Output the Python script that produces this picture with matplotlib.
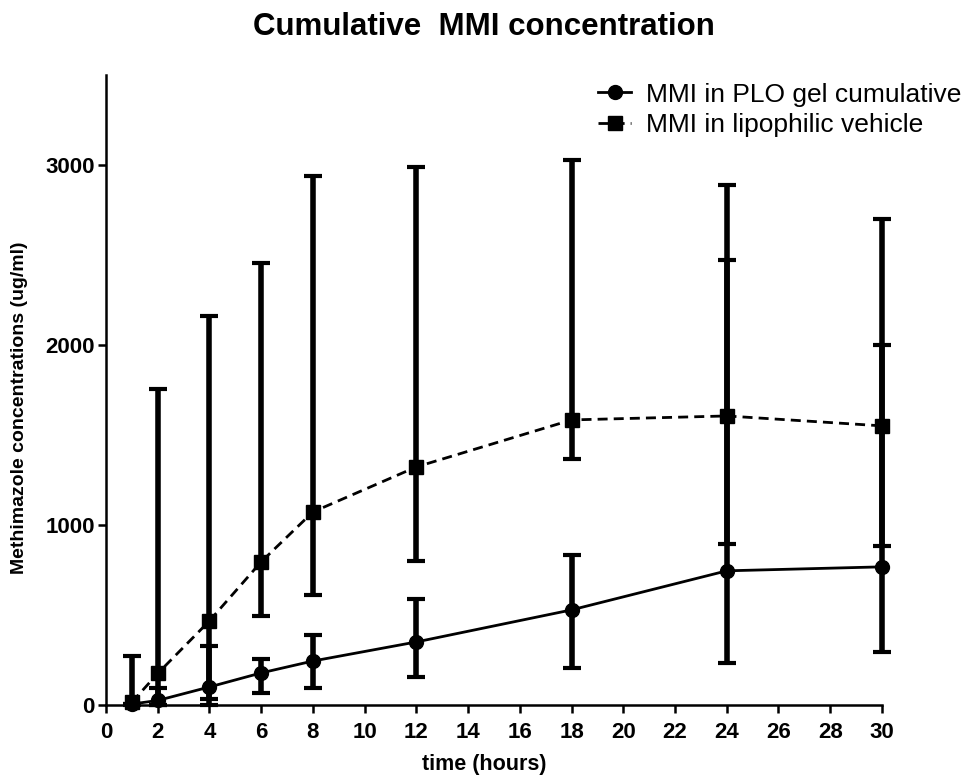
import matplotlib
matplotlib.use("Agg")
import matplotlib.pyplot as plt

plt.rcParams['font.family'] = ['Liberation Sans', 'DejaVu Sans']

# sampling times (hours)
hours = [1, 2, 4, 6, 8, 12, 18, 24, 30]

# MMI in PLO gel cumulative
plo_mean = [5, 25, 100, 178, 244, 350, 528, 745, 767]
plo_low = [5, 0, 33, 67, 94, 156, 206, 233, 294]
plo_high = [5, 95, 328, 256, 389, 589, 833, 2470, 2000]

# MMI in lipophilic vehicle
lipo_mean = [15, 175, 467, 795, 1072, 1322, 1583, 1605, 1550]
lipo_low = [0, 0, 0, 495, 611, 800, 1367, 895, 883]
lipo_high = [270, 1755, 2160, 2455, 2935, 2985, 3025, 2885, 2700]

labels = ['MMI in PLO gel cumulative', 'MMI in lipophilic vehicle']

fig = plt.figure(figsize=(9.68, 7.8), dpi=100)
ax = fig.add_axes([0.1095, 0.0962, 0.8016, 0.808])


def yerr(mean, low, high):
    return [[m - l for m, l in zip(mean, low)], [h - m for m, h in zip(mean, high)]]


# error bars (black, thick caps)
for mean, low, high in [(plo_mean, plo_low, plo_high), (lipo_mean, lipo_low, lipo_high)]:
    eb = ax.errorbar(hours, mean, yerr=yerr(mean, low, high), fmt='none', ecolor='black',
                     elinewidth=4, capsize=6.5, capthick=3, zorder=2)
    for art in list(eb.lines[1]) + list(eb.lines[2]):
        art.set_clip_on(False)

ax.plot(hours, plo_mean, '-', color='black', lw=2, marker='o', ms=10,
        label=labels[0], clip_on=False, zorder=3)
ax.plot(hours, lipo_mean, '--', color='black', lw=2, marker='s', ms=9.5,
        dashes=(3.6, 2.2), label=labels[1], clip_on=False, zorder=3)

ax.set_xlim(0, 30)
ax.set_ylim(0, 3500)
ax.set_xticks(range(0, 31, 2))
ax.set_yticks([0, 1000, 2000, 3000])

for s in ['top', 'right']:
    ax.spines[s].set_visible(False)
for s in ['left', 'bottom']:
    ax.spines[s].set_linewidth(1.8)

ax.tick_params(direction='out', length=6, width=1.8, labelsize=16)
ax.tick_params(axis='x', pad=6)
ax.tick_params(axis='y', pad=2)
for lbl in ax.get_xticklabels() + ax.get_yticklabels():
    lbl.set_fontweight('bold')

ax.set_xlabel('time (hours)', fontsize=15.5, fontweight='bold')
ax.xaxis.set_label_coords(0.487, -0.078)
ax.set_ylabel('Methimazole concentrations (ug/ml)', fontsize=14, fontweight='bold')
ax.yaxis.set_label_coords(-0.1, 0.471)

fig.suptitle('Cumulative  MMI concentration', fontsize=22.5, fontweight='bold', y=0.985)

fig.legend(loc='upper left', bbox_to_anchor=(0.618, 0.894), frameon=False, fontsize=19,
           handlelength=1.25, handletextpad=0.55, labelspacing=0.25, borderpad=0, borderaxespad=0)

fig.savefig('out.png', dpi=100)
